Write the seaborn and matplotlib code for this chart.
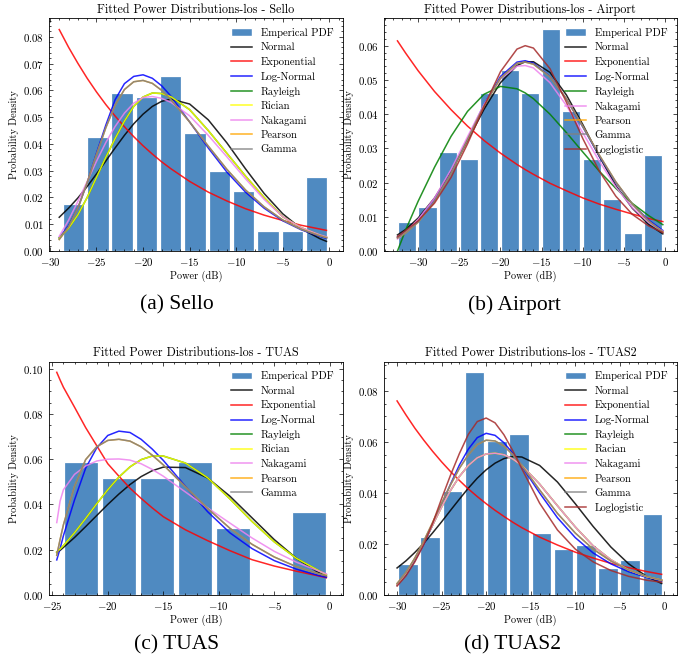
import matplotlib
matplotlib.use('Agg')
import matplotlib.pyplot as plt
import seaborn as sns
from matplotlib.patches import Patch
from matplotlib.ticker import AutoMinorLocator

# Fonts: computer-modern look for the plots, times-like for the captions
plt.rcParams['font.family'] = 'serif'
plt.rcParams['font.serif'] = ['cmr10']
plt.rcParams['mathtext.fontset'] = 'cm'
plt.rcParams['axes.formatter.use_mathtext'] = True
plt.rcParams['axes.linewidth'] = 0.6

# ---------------- (a) Sello ----------------
bars_x_a = [-27.46, -24.85, -22.24, -19.63, -17.02, -14.41, -11.80, -9.19, -6.58, -3.97, -1.36]
bars_h_a = [0.0175, 0.0426, 0.0589, 0.0576, 0.0654, 0.0440, 0.0300, 0.0224, 0.0074, 0.0074, 0.0275]
x_a = [-29, -28, -27, -26, -25, -24, -23, -22, -21, -20, -19, -18, -17, -15, -13, -11, -9, -7, -5, -3, -1, -0.3]
normal_a = [0.0126, 0.0160, 0.0198, 0.0241, 0.0288, 0.0336, 0.0385, 0.0432, 0.0475, 0.0511, 0.0540, 0.0559,
            0.0567, 0.0549, 0.0490, 0.0404, 0.0307, 0.0215, 0.0139, 0.0083, 0.0046, 0.0036]
expon_a = [0.0827, 0.0761, 0.0701, 0.0645, 0.0594, 0.0547, 0.0504, 0.0464, 0.0427, 0.0393, 0.0362, 0.0333,
           0.0307, 0.0260, 0.0220, 0.0187, 0.0158, 0.0134, 0.0114, 0.0096, 0.0082, 0.0077]
lognorm_a = [0.0050, 0.0095, 0.0160, 0.0255, 0.0365, 0.0470, 0.0565, 0.0625, 0.0652, 0.0658, 0.0645, 0.0617,
             0.0578, 0.0482, 0.0385, 0.0295, 0.0220, 0.0160, 0.0113, 0.0079, 0.0055, 0.0047]
rician_a = [0.0048, 0.0085, 0.0135, 0.0200, 0.0275, 0.0350, 0.0420, 0.0485, 0.0540, 0.0575, 0.0590, 0.0588,
            0.0576, 0.0528, 0.0450, 0.0365, 0.0280, 0.0200, 0.0128, 0.0087, 0.0059, 0.0051]
rayleigh_a = rician_a
nakagami_a = [0.0055, 0.0115, 0.0185, 0.0260, 0.0335, 0.0405, 0.0465, 0.0515, 0.0552, 0.0573, 0.0577, 0.0570,
              0.0555, 0.0505, 0.0432, 0.0352, 0.0270, 0.0193, 0.0128, 0.0087, 0.0060, 0.0053]
gamma_a = [0.0043, 0.0090, 0.0160, 0.0255, 0.0360, 0.0460, 0.0545, 0.0603, 0.0632, 0.0637, 0.0626, 0.0600,
           0.0565, 0.0482, 0.0392, 0.0305, 0.0228, 0.0165, 0.0116, 0.0081, 0.0057, 0.0050]
pearson_a = gamma_a

# ---------------- (b) Airport ----------------
bars_x_b = [-31.34, -28.85, -26.36, -23.87, -21.38, -18.89, -16.40, -13.91, -11.42, -8.93, -6.44, -3.95, -1.46]
bars_h_b = [0.0086, 0.0128, 0.0290, 0.0269, 0.0463, 0.0529, 0.0463, 0.0648, 0.0409, 0.0269, 0.0151, 0.0054, 0.0280]
x_b = [-32.5, -31.5, -30, -28, -26, -24, -22, -20, -18, -17, -16, -14, -12, -10, -8, -6, -4, -2, -0.3]
normal_b = [0.0047, 0.0063, 0.0096, 0.0155, 0.0232, 0.0322, 0.0414, 0.0492, 0.0542, 0.0553, 0.0553, 0.0522,
            0.0456, 0.0369, 0.0276, 0.0191, 0.0125, 0.0077, 0.0050]
expon_b = [0.0614, 0.0578, 0.0527, 0.0466, 0.0413, 0.0365, 0.0323, 0.0286, 0.0253, 0.0238, 0.0224, 0.0198,
           0.0176, 0.0155, 0.0137, 0.0122, 0.0108, 0.0095, 0.0086]
lognorm_b = [0.0040, 0.0055, 0.0087, 0.0148, 0.0230, 0.0328, 0.0428, 0.0510, 0.0552, 0.0556, 0.0549, 0.0510,
             0.0444, 0.0362, 0.0277, 0.0200, 0.0137, 0.0090, 0.0060]
rayleigh_b = [0.0, 0.0062, 0.0145, 0.0245, 0.0335, 0.0408, 0.0458, 0.0481, 0.0474, 0.0462, 0.0445, 0.0400,
              0.0346, 0.0289, 0.0233, 0.0183, 0.0139, 0.0103, 0.0077]
nakagami_b = [0.0035, 0.0055, 0.0092, 0.0155, 0.0238, 0.0334, 0.0428, 0.0503, 0.0540, 0.0542, 0.0535, 0.0492,
              0.0425, 0.0345, 0.0262, 0.0187, 0.0127, 0.0083, 0.0058]
gamma_b = [0.0038, 0.0053, 0.0084, 0.0145, 0.0227, 0.0325, 0.0424, 0.0505, 0.0548, 0.0552, 0.0546, 0.0509,
           0.0445, 0.0364, 0.0280, 0.0202, 0.0137, 0.0087, 0.0056]
pearson_b = gamma_b
loglog_b = [0.0042, 0.0060, 0.0088, 0.0140, 0.0215, 0.0313, 0.0422, 0.0524, 0.0590, 0.0600, 0.0593, 0.0533,
            0.0435, 0.0328, 0.0233, 0.0160, 0.0107, 0.0073, 0.0054]

# ---------------- (c) TUAS ----------------
bars_x_c = [-22.43, -19.00, -15.57, -12.14, -8.71, -5.29, -1.86]
bars_h_c = [0.0588, 0.0515, 0.0515, 0.0588, 0.0294, 0.0, 0.0368]
x_c = [-24.6, -24.3, -24, -23, -22, -21, -20, -19, -18, -17, -16, -15, -13, -11, -9, -7, -5, -3, -1, -0.3]
normal_c = [0.0188, 0.0197, 0.0210, 0.0254, 0.0302, 0.0351, 0.0400, 0.0446, 0.0488, 0.0523, 0.0549, 0.0565,
            0.0563, 0.0517, 0.0437, 0.0341, 0.0245, 0.0162, 0.0099, 0.0082]
expon_c = [0.0984, 0.0950, 0.0918, 0.0830, 0.0740, 0.0660, 0.0580, 0.0525, 0.0472, 0.0427, 0.0385, 0.0346,
           0.0288, 0.0240, 0.0196, 0.0156, 0.0128, 0.0105, 0.0084, 0.0076]
lognorm_c = [0.0155, 0.0205, 0.0262, 0.0420, 0.0560, 0.0650, 0.0705, 0.0724, 0.0718, 0.0688, 0.0645, 0.0595,
             0.0480, 0.0368, 0.0275, 0.0205, 0.0152, 0.0114, 0.0086, 0.0078]
rician_c = [0.0190, 0.0203, 0.0218, 0.0275, 0.0338, 0.0403, 0.0465, 0.0521, 0.0566, 0.0598, 0.0614, 0.0614,
            0.0583, 0.0518, 0.0425, 0.0325, 0.0235, 0.0162, 0.0108, 0.0090]
rayleigh_c = rician_c
nakagami_c = [0.0320, 0.0415, 0.0465, 0.0533, 0.0570, 0.0592, 0.0600, 0.0601, 0.0596, 0.0580, 0.0555, 0.0525,
              0.0455, 0.0385, 0.0318, 0.0252, 0.0193, 0.0145, 0.0106, 0.0093]
gamma_c = [0.0175, 0.0245, 0.0310, 0.0480, 0.0598, 0.0655, 0.0683, 0.0688, 0.0680, 0.0655, 0.0618, 0.0575,
           0.0478, 0.0382, 0.0295, 0.0224, 0.0168, 0.0125, 0.0094, 0.0085]
pearson_c = gamma_c

# ---------------- (d) TUAS2 ----------------
bars_x_d = [-28.79, -26.29, -23.80, -21.30, -18.80, -16.31, -13.81, -11.32, -8.82, -6.32, -3.83, -1.33]
bars_h_d = [0.0122, 0.0226, 0.0408, 0.0873, 0.0604, 0.0631, 0.0242, 0.0180, 0.0196, 0.0107, 0.0137, 0.0318]
x_d = [-30, -29, -28, -27, -26, -25, -24, -23, -22, -21, -20, -19, -18, -17, -16, -14, -12, -10, -8, -6, -4, -2, -0.3]
normal_d = [0.0106, 0.0134, 0.0167, 0.0203, 0.0244, 0.0287, 0.0332, 0.0376, 0.0419, 0.0458, 0.0491, 0.0517,
            0.0535, 0.0543, 0.0541, 0.0508, 0.0443, 0.0358, 0.0269, 0.0188, 0.0122, 0.0073, 0.0045]
expon_d = [0.0761, 0.0706, 0.0654, 0.0607, 0.0563, 0.0522, 0.0484, 0.0449, 0.0416, 0.0386, 0.0358, 0.0332,
           0.0308, 0.0285, 0.0264, 0.0227, 0.0196, 0.0168, 0.0145, 0.0124, 0.0107, 0.0092, 0.0081]
lognorm_d = [0.0039, 0.0080, 0.0135, 0.0200, 0.0275, 0.0355, 0.0435, 0.0510, 0.0572, 0.0617, 0.0634, 0.0626,
             0.0597, 0.0555, 0.0505, 0.0400, 0.0303, 0.0225, 0.0165, 0.0122, 0.0091, 0.0069, 0.0055]
nakagami_d = [0.0040, 0.0085, 0.0143, 0.0207, 0.0275, 0.0345, 0.0410, 0.0465, 0.0508, 0.0538, 0.0553, 0.0556,
              0.0550, 0.0533, 0.0508, 0.0435, 0.0350, 0.0267, 0.0193, 0.0138, 0.0098, 0.0072, 0.0058]
racian_d = nakagami_d
rayleigh_d = nakagami_d
gamma_d = [0.0045, 0.0088, 0.0145, 0.0212, 0.0285, 0.0360, 0.0432, 0.0497, 0.0550, 0.0590, 0.0607, 0.0604,
           0.0584, 0.0550, 0.0508, 0.0412, 0.0320, 0.0243, 0.0180, 0.0133, 0.0098, 0.0073, 0.0058]
pearson_d = gamma_d
loglog_d = [0.0035, 0.0075, 0.0130, 0.0198, 0.0282, 0.0378, 0.0470, 0.0555, 0.0630, 0.0680, 0.0694, 0.0675,
            0.0628, 0.0565, 0.0495, 0.0360, 0.0255, 0.0180, 0.0130, 0.0096, 0.0073, 0.0058, 0.0050]

bar_color = '#4f8ac1'
line_colors = {'Normal': 'black', 'Exponential': 'red', 'Log-Normal': 'blue', 'Rayleigh': 'green',
               'Rician': 'yellow', 'Racian': 'yellow', 'Nakagami': 'violet', 'Pearson': 'orange',
               'Gamma': 'gray', 'Loglogistic': 'brown'}


def draw_panel(ax, name, bx, bh, nbins, brange, xs, curves, xlim, ylim):
    sns.histplot(x=bx, weights=bh, bins=nbins, binrange=brange, shrink=0.88, ax=ax,
                 color=bar_color, alpha=1, edgecolor='white', linewidth=0.9)
    for label, ys in curves:
        sns.lineplot(x=xs, y=ys, ax=ax, color=line_colors[label], label=label,
                     lw=1.1, alpha=0.85, errorbar=None, legend=False)
    ax.set_xlim(xlim)
    ax.set_ylim(ylim)
    ax.set_title('Fitted Power Distributions-los - ' + name, fontsize=8.7, pad=4)
    ax.set_xlabel('Power (dB)', fontsize=7.4, labelpad=2)
    ax.set_ylabel('Probability Density', fontsize=7.4, labelpad=3)
    ax.xaxis.set_minor_locator(AutoMinorLocator())
    ax.yaxis.set_minor_locator(AutoMinorLocator())
    ax.tick_params(which='both', direction='in', top=True, right=True, labelsize=7.8, width=0.5)
    ax.tick_params(which='major', length=3)
    ax.tick_params(which='minor', length=1.5)
    handles, labels = ax.get_legend_handles_labels()
    bar_patch = Patch(facecolor=bar_color, edgecolor='white', label='Emperical PDF')
    ax.legend(handles=[bar_patch] + handles, labels=['Emperical PDF'] + labels,
              loc='upper right', frameon=False, fontsize=7.7, handlelength=2.0, labelspacing=0.45)


fig = plt.figure(figsize=(6.94, 6.63), dpi=100)
ax_a = fig.add_axes([0.0706, 0.6214, 0.4236, 0.351])
ax_b = fig.add_axes([0.5529, 0.6214, 0.4226, 0.351])
ax_c = fig.add_axes([0.0706, 0.1026, 0.4236, 0.3519])
ax_d = fig.add_axes([0.5529, 0.1026, 0.4226, 0.3519])

draw_panel(ax_a, 'Sello', bars_x_a, bars_h_a, 11, (-28.77, -0.05), x_a,
           [('Normal', normal_a), ('Exponential', expon_a), ('Log-Normal', lognorm_a),
            ('Rayleigh', rayleigh_a), ('Rician', rician_a), ('Nakagami', nakagami_a),
            ('Pearson', pearson_a), ('Gamma', gamma_a)],
           (-30.1, 1.47), (0, 0.0869))

draw_panel(ax_b, 'Airport', bars_x_b, bars_h_b, 13, (-32.59, -0.21), x_b,
           [('Normal', normal_b), ('Exponential', expon_b), ('Log-Normal', lognorm_b),
            ('Rayleigh', rayleigh_b), ('Nakagami', nakagami_b), ('Pearson', pearson_b),
            ('Gamma', gamma_b), ('Loglogistic', loglog_b)],
           (-34.17, 1.42), (0, 0.068))

draw_panel(ax_c, 'TUAS', bars_x_c, bars_h_c, 7, (-24.14, -0.14), x_c,
           [('Normal', normal_c), ('Exponential', expon_c), ('Log-Normal', lognorm_c),
            ('Rayleigh', rayleigh_c), ('Rician', rician_c), ('Nakagami', nakagami_c),
            ('Pearson', pearson_c), ('Gamma', gamma_c)],
           (-25.3, 1.2), (0, 0.1031))

draw_panel(ax_d, 'TUAS2', bars_x_d, bars_h_d, 12, (-30.04, -0.08), x_d,
           [('Normal', normal_d), ('Exponential', expon_d), ('Log-Normal', lognorm_d),
            ('Rayleigh', rayleigh_d), ('Racian', racian_d), ('Nakagami', nakagami_d),
            ('Pearson', pearson_d), ('Gamma', gamma_d), ('Loglogistic', loglog_d)],
           (-31.5, 1.42), (0, 0.0915))

captions = ['(a) Sello', '(b) Airport', '(c) TUAS', '(d) TUAS2']
cap_pos = [(0.2543, 0.54), (0.7406, 0.54), (0.2543, 0.027), (0.739, 0.027)]
for text, (cx, cy) in zip(captions, cap_pos):
    fig.text(cx, cy, text, fontsize=15.5, family='Liberation Serif', ha='center', va='center')

fig.savefig('out.png', dpi=100)
